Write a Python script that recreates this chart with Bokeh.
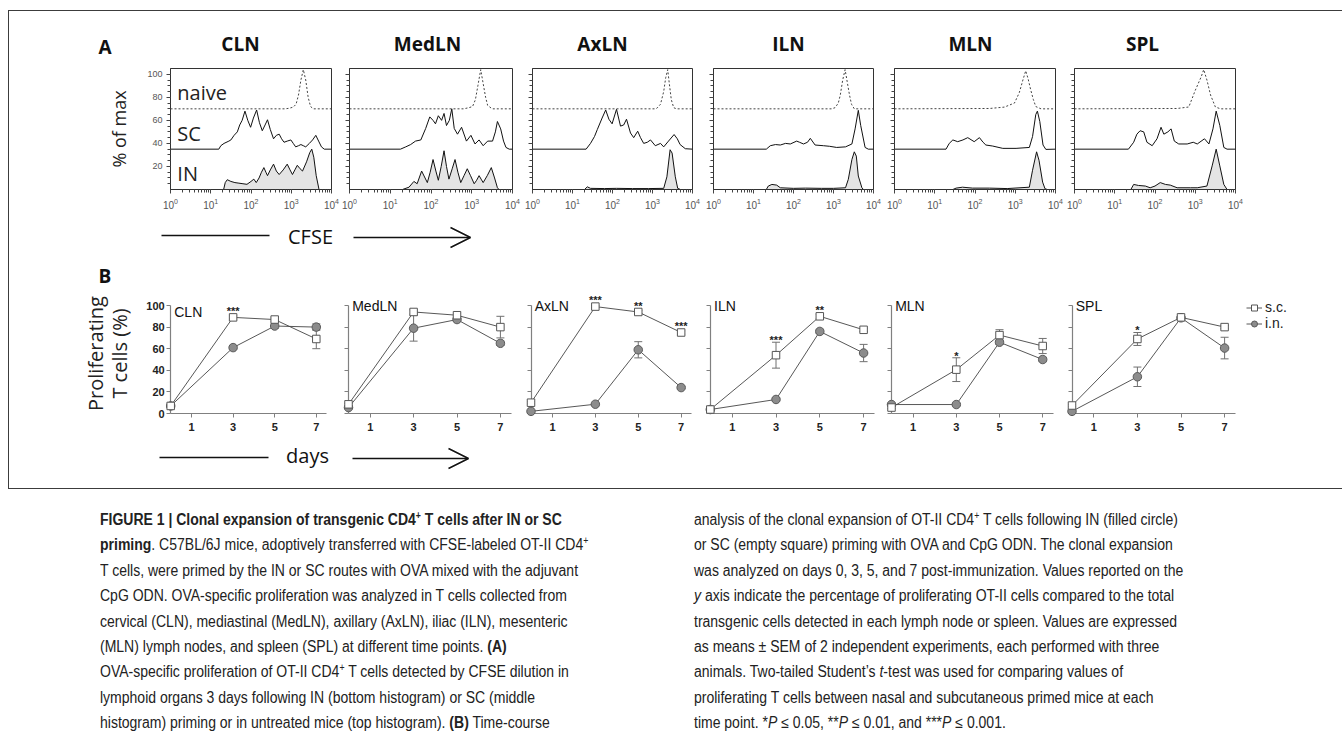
import math
from bokeh.plotting import figure
from bokeh.layouts import row, column
from bokeh.models import (Range1d, FixedTicker, Legend, LegendItem, Whisker, TeeHead,
                          ColumnDataSource, Arrow, OpenHead, Label, Div, Spacer,
                          CustomJSTickFormatter)
from bokeh.core.properties import value
from bokeh.embed import file_html
from bokeh.resources import INLINE

# ------------------------------------------------------------------ data
ORGANS = ["CLN", "MedLN", "AxLN", "ILN", "MLN", "SPL"]
HIST_LABELS = ["naive", "SC", "IN"]
MAX_TICKS = [20, 40, 60, 80, 100]
DAYS = [0, 3, 5, 7]
DAY_TICKS = [1, 3, 5, 7]
PCT_TICKS = [0, 20, 40, 60, 80, 100]
LEGEND_LABELS = ["s.c.", "i.n."]
B_YLABEL = ["Proliferating", "T cells (%)"]

# CFSE histograms: (log10 CFSE intensity, % of max as drawn, stacked)
CLN_NAIVE = [(0, 70), (2.85, 70), (2.95, 70.5), (3.05, 71.5), (3.12, 74), (3.18, 82), (3.24, 95),
             (3.30, 104), (3.36, 95), (3.42, 80), (3.48, 72), (3.55, 70), (4, 70)]
CLN_SC = [(0, 35), (1.2, 35), (1.25, 38), (1.33, 40), (1.45, 42), (1.5, 43), (1.58, 47), (1.66, 50),
          (1.72, 56), (1.78, 60), (1.85, 68), (1.92, 60), (1.99, 54), (2.06, 62), (2.14, 69), (2.21, 58),
          (2.28, 51), (2.35, 56), (2.41, 60.5), (2.48, 52), (2.56, 44), (2.63, 47), (2.70, 48), (2.76, 44),
          (2.82, 41), (2.9, 42), (2.99, 43), (3.05, 40), (3.11, 37), (3.18, 38), (3.24, 39), (3.30, 38),
          (3.36, 37), (3.45, 40), (3.53, 43), (3.61, 47), (3.68, 42), (3.75, 37), (3.82, 35), (4, 35)]
CLN_IN = [(0, 0), (1.32, 0), (1.36, 6), (1.41, 8.5), (1.5, 7), (1.6, 6), (1.7, 5.5), (1.8, 5), (1.9, 4.5),
          (2.0, 7), (2.07, 9), (2.13, 6), (2.2, 10), (2.26, 15), (2.32, 19), (2.37, 15), (2.41, 12),
          (2.48, 17), (2.56, 22), (2.63, 16), (2.70, 13), (2.8, 17), (2.90, 22), (2.97, 17), (3.03, 13),
          (3.09, 17), (3.15, 21), (3.22, 18), (3.28, 16), (3.38, 24), (3.46, 32), (3.51, 35), (3.56, 28),
          (3.62, 12), (3.69, 0), (4, 0)]

MEDLN_NAIVE = [(0, 70), (2.8, 70), (2.93, 71), (3.02, 72), (3.09, 78), (3.15, 90), (3.22, 104),
               (3.28, 92), (3.34, 80), (3.39, 73), (3.5, 70), (4, 70)]
MEDLN_SC = [(0, 35), (1.25, 35), (1.38, 37), (1.5, 39), (1.62, 42), (1.75, 43), (1.87, 53), (1.97, 63),
            (2.05, 60), (2.11, 57), (2.18, 64), (2.26, 60), (2.32, 66), (2.38, 55.5), (2.45, 60),
            (2.51, 70), (2.57, 53), (2.65, 48), (2.75, 54), (2.87, 42), (2.98, 47), (3.08, 39.5),
            (3.18, 43), (3.28, 38), (3.39, 42), (3.51, 42), (3.58, 50), (3.63, 59), (3.71, 52.6),
            (3.78, 42), (3.84, 36.5), (3.92, 35), (4, 35)]
MEDLN_IN = [(0, 0), (1.30, 0), (1.46, 2), (1.58, 7), (1.66, 5), (1.77, 16), (1.91, 6), (1.98, 15),
            (2.05, 26), (2.12, 16), (2.18, 8), (2.25, 20), (2.32, 33.6), (2.38, 20), (2.44, 9), (2.52, 18),
            (2.59, 26), (2.66, 15), (2.73, 6), (2.81, 12), (2.89, 18), (2.97, 12), (3.06, 5), (3.12, 8),
            (3.18, 12), (3.23, 9), (3.28, 6), (3.38, 12), (3.48, 19), (3.56, 10), (3.63, 1.5), (3.67, 0),
            (4, 0)]

AXLN_NAIVE = [(0, 70), (3.05, 70), (3.11, 70.5), (3.2, 74), (3.28, 85), (3.33, 97), (3.38, 104),
              (3.42, 92), (3.47, 78), (3.53, 71), (3.6, 70), (4, 70)]
AXLN_SC = [(0, 35), (1.34, 35), (1.45, 40), (1.55, 46), (1.62, 52), (1.74, 62), (1.83, 69), (1.91, 61),
           (1.99, 57), (2.10, 69.6), (2.20, 55), (2.28, 56), (2.35, 61), (2.45, 49), (2.53, 45),
           (2.63, 50.6), (2.7, 45), (2.78, 40), (2.87, 41), (2.95, 43), (3.07, 38), (3.20, 40), (3.28, 37),
           (3.40, 42), (3.54, 47.7), (3.62, 44), (3.69, 39), (3.82, 35.4), (4, 35)]
AXLN_IN = [(0, 0), (1.30, 0), (1.37, 2.3), (1.45, 1), (1.8, 0.8), (2.1, 1), (2.5, 0.8), (2.9, 0.8),
           (3.28, 1), (3.36, 11), (3.44, 34.5), (3.49, 31.6), (3.57, 11), (3.63, 1), (3.7, 0), (4, 0)]

ILN_NAIVE = [(0, 70), (2.95, 70), (3.04, 71), (3.12, 75), (3.17, 82), (3.23, 95), (3.29, 104),
             (3.34, 94), (3.40, 82), (3.45, 74), (3.52, 70), (4, 70)]
ILN_SC = [(0, 35), (1.32, 35), (1.42, 38), (1.55, 39), (1.67, 38.6), (1.8, 40), (1.92, 39.5), (2.08, 42),
          (2.15, 41), (2.25, 39.5), (2.35, 41), (2.42, 44.4), (2.54, 38.6), (2.75, 38), (2.9, 37.5),
          (3.08, 36.5), (3.3, 37), (3.46, 39.5), (3.54, 52.6), (3.62, 68.7), (3.68, 55.6), (3.79, 36.5),
          (3.87, 35), (4, 35)]
ILN_IN = [(0, 0), (1.32, 0), (1.37, 3), (1.46, 4.4), (1.58, 3.8), (1.67, 1.5), (2.0, 1), (2.3, 1.2),
          (2.7, 1), (3.0, 1), (3.3, 1.5), (3.37, 8.8), (3.46, 26), (3.52, 32.7), (3.57, 29), (3.62, 11.7),
          (3.71, 1.5), (3.75, 0), (4, 0)]

MLN_NAIVE = [(0, 70), (2.36, 70.3), (2.73, 71.5), (2.98, 75), (3.10, 84), (3.19, 95), (3.26, 103),
             (3.32, 96), (3.38, 87), (3.45, 78), (3.51, 72), (3.64, 70), (4, 70)]
MLN_SC = [(0, 35), (1.28, 35), (1.36, 40), (1.45, 43), (1.57, 41.5), (1.7, 43), (1.82, 45), (1.98, 41.5),
          (2.11, 45), (2.2, 41), (2.27, 38.6), (2.44, 37.7), (2.69, 35.7), (3.02, 35.7), (3.35, 36.5),
          (3.43, 46), (3.51, 65), (3.55, 68), (3.61, 59), (3.69, 38.6), (3.76, 34.8), (4, 35)]
MLN_IN = [(0, 0), (1.45, 0), (1.53, 1.2), (1.69, 2), (1.94, 1.2), (2.36, 1.2), (2.8, 0.8), (3.35, 2),
          (3.43, 16.7), (3.53, 32.7), (3.59, 25.4), (3.68, 6.4), (3.74, 0.6), (3.8, 0), (4, 0)]

SPL_NAIVE = [(0, 70), (2.55, 70.3), (2.84, 71.6), (3.0, 86), (3.15, 98), (3.21, 104), (3.29, 95),
             (3.38, 82), (3.50, 71.6), (3.63, 70), (4, 70)]
SPL_SC = [(0, 35), (1.34, 35), (1.47, 41), (1.55, 48), (1.63, 51), (1.72, 50), (1.80, 41), (1.93, 38),
          (2.05, 44), (2.15, 54), (2.22, 48), (2.32, 50), (2.40, 52.6), (2.48, 42), (2.59, 39.5),
          (2.8, 39.5), (2.95, 41), (3.05, 39.5), (3.23, 44), (3.34, 39.5), (3.44, 52.6), (3.52, 68),
          (3.61, 55.6), (3.71, 36.5), (3.79, 35), (4, 35)]
SPL_IN = [(0, 0), (1.40, 0), (1.47, 4.4), (1.59, 3.5), (1.76, 3), (1.88, 1.5), (2.0, 3), (2.13, 6),
          (2.26, 4.4), (2.38, 3.8), (2.55, 1.5), (2.88, 1.5), (3.05, 1.5), (3.29, 3), (3.42, 20.5),
          (3.52, 35), (3.61, 20.5), (3.71, 4.4), (3.79, 0), (4, 0)]

# Time course: proliferating T cells (%), mean and SEM at days 0, 3, 5, 7
CLN_SC_MEAN = [7, 89, 87, 69]
CLN_SC_SEM = [1, 1.5, 1.5, 9]
CLN_IN_MEAN = [7, 61, 81, 80]
CLN_IN_SEM = [1, 1.5, 2, 3]
CLN_STARS = ["", "***", "", ""]

MEDLN_SC_MEAN = [8.5, 94, 91, 80]
MEDLN_SC_SEM = [1, 2, 2, 10]
MEDLN_IN_MEAN = [5.5, 79, 87, 65]
MEDLN_IN_SEM = [1, 12, 2, 2]
MEDLN_STARS = ["", "", "", ""]

AXLN_SC_MEAN = [10, 99, 94, 75]
AXLN_SC_SEM = [1, 1, 1.5, 1.5]
AXLN_IN_MEAN = [2, 8.6, 59, 24]
AXLN_IN_SEM = [0.5, 1, 7.5, 1]
AXLN_STARS = ["", "***", "**", "***"]

ILN_SC_MEAN = [3.7, 54, 90, 77.5]
ILN_SC_SEM = [1, 12, 2, 1.5]
ILN_IN_MEAN = [3.7, 13, 76, 56]
ILN_IN_SEM = [1, 1.5, 2, 8]
ILN_STARS = ["", "***", "**", ""]

MLN_SC_MEAN = [5.5, 40.6, 72.6, 62.5]
MLN_SC_SEM = [1, 11, 5, 7]
MLN_IN_MEAN = [8.3, 8.3, 66, 50]
MLN_IN_SEM = [1, 1, 2, 2]
MLN_STARS = ["", "*", "", ""]

SPL_SC_MEAN = [7.4, 69, 89, 80]
SPL_SC_SEM = [1, 6, 1.5, 1.5]
SPL_IN_MEAN = [2, 34, 88.6, 60.6]
SPL_IN_SEM = [0.5, 9, 1.5, 10]
SPL_STARS = ["", "*", "", ""]

HISTS = [(CLN_NAIVE, CLN_SC, CLN_IN), (MEDLN_NAIVE, MEDLN_SC, MEDLN_IN), (AXLN_NAIVE, AXLN_SC, AXLN_IN),
         (ILN_NAIVE, ILN_SC, ILN_IN), (MLN_NAIVE, MLN_SC, MLN_IN), (SPL_NAIVE, SPL_SC, SPL_IN)]
COURSES = [
    (CLN_SC_MEAN, CLN_SC_SEM, CLN_IN_MEAN, CLN_IN_SEM, CLN_STARS),
    (MEDLN_SC_MEAN, MEDLN_SC_SEM, MEDLN_IN_MEAN, MEDLN_IN_SEM, MEDLN_STARS),
    (AXLN_SC_MEAN, AXLN_SC_SEM, AXLN_IN_MEAN, AXLN_IN_SEM, AXLN_STARS),
    (ILN_SC_MEAN, ILN_SC_SEM, ILN_IN_MEAN, ILN_IN_SEM, ILN_STARS),
    (MLN_SC_MEAN, MLN_SC_SEM, MLN_IN_MEAN, MLN_IN_SEM, MLN_STARS),
    (SPL_SC_MEAN, SPL_SC_SEM, SPL_IN_MEAN, SPL_IN_SEM, SPL_STARS),
]

# ------------------------------------------------------------------ layout constants (image px)
X0, X1 = 9, 1334
A_LEFT = [170, 349, 532, 713, 894, 1074]
A_WIDTH = [161, 163, 160, 160, 161, 161]
A_TITLE_X = [240, 427, 602, 788, 970, 1142]
B_DAY0 = [170.2, 348, 530.5, 709.8, 891, 1071.5]
B_PPD = [20.8, 21.7, 21.45, 21.9, 21.6, 21.8]
B_ZERO_Y, B_PPU = 413, 1.08
B_TOP, B_BOT = 290, 435
BASELINES = [70, 35, 0]

SANS = "Liberation Sans"
OPEN = "Open Sans"


def blank(y0, y1):
    p = figure(width=X1 - X0, height=y1 - y0, x_range=Range1d(X0, X1), y_range=Range1d(y1, y0),
               x_axis_type=None, y_axis_type=None, min_border=0, output_backend="svg",
               toolbar_location=None)
    p.outline_line_color = None
    p.grid.visible = False
    return p


# ---------------- header (titles)
hdr = blank(11, 64)
hdr.text(x=A_TITLE_X, y=[43.5] * 6, text=ORGANS, text_font=value(OPEN), text_font_style="bold",
         text_font_size="19px", text_align="center", text_baseline="middle", text_color="#111")
hdr.text(x=[104.5], y=[46], text=["A"], text_font=value(OPEN), text_font_style="bold",
         text_font_size="19px", text_align="center", text_baseline="middle", text_color="#111")

# ---------------- row A: CFSE histograms
figsA = []
prev = X0
for i, org in enumerate(ORGANS):
    left_b = A_LEFT[i] - prev
    right_edge = A_LEFT[i] + A_WIDTH[i]
    right_b = 9 if i < 5 else X1 - right_edge
    p = figure(frame_width=A_WIDTH[i], frame_height=121, x_axis_type="log",
               x_range=Range1d(1, 10000), y_range=Range1d(0, 105),
               min_border_left=left_b, min_border_right=right_b, min_border_top=4,
               min_border_bottom=25, output_backend="svg", toolbar_location=None)
    prev = right_edge + right_b
    p.grid.visible = False
    p.outline_line_color = "#333"
    for ax in (p.xaxis[0], p.yaxis[0]):
        ax.axis_line_color = "#333"
        ax.major_tick_line_color = "#444"
        ax.minor_tick_line_color = "#444"
        ax.major_tick_in = 0
        ax.major_tick_out = 4
        ax.minor_tick_in = 0
        ax.minor_tick_out = 3
        ax.major_label_text_font = SANS
        ax.major_label_text_color = "#555"
        ax.major_label_standoff = 4
    p.xaxis.major_label_text_font_size = "10px"
    p.yaxis.major_label_text_font_size = "9px"
    p.yaxis.ticker = FixedTicker(ticks=MAX_TICKS, minor_ticks=list(range(5, 105, 5)))
    if i == 0:
        p.yaxis.axis_label = "% of max"
        p.yaxis.axis_label_text_font = OPEN
        p.yaxis.axis_label_text_font_size = "18px"
        p.yaxis.axis_label_text_font_style = "normal"
        p.yaxis.axis_label_text_color = "#222"
        p.yaxis.axis_label_standoff = 13
    else:
        p.yaxis.formatter = CustomJSTickFormatter(code="return ''")
    naive, sc, inn = HISTS[i]
    xs = lambda pts: [10 ** a for a, b in pts]
    ys = lambda pts: [b for a, b in pts]
    p.varea(x=xs(inn), y1=[0] * len(inn), y2=ys(inn), fill_color="#e4e4e4")
    p.line(xs(inn), ys(inn), line_color="#111", line_width=1)
    p.line(xs(sc), ys(sc), line_color="#111", line_width=1)
    p.line(xs(naive), ys(naive), line_color="#444", line_width=1, line_dash="2 2")
    if i == 0:
        p.text(x=[1.48] * 3, y=[b + 14 for b in BASELINES], text=HIST_LABELS, text_font=value(OPEN),
               text_font_size="20px", text_baseline="middle", text_color="#222")
    figsA.append(p)

# ---------------- CFSE arrow row + "B"
cf = blank(214, 289)
cf.segment(x0=[161], y0=[235], x1=[269], y1=[235], line_width=1.6, line_color="#111")
cf.text(x=[310], y=[235.5], text=["CFSE"], text_font=value(OPEN), text_font_size="20px",
        text_align="center", text_baseline="middle", text_color="#111")
cf.add_layout(Arrow(end=OpenHead(size=20, line_width=1.6, line_color="#111"), x_start=353, y_start=237,
                    x_end=470, y_end=237, line_width=1.6, line_color="#111"))
cf.text(x=[104.5], y=[275.5], text=["B"], text_font=value(OPEN), text_font_style="bold",
        text_font_size="19px", text_align="center", text_baseline="middle", text_color="#111")

# ---------------- row B: time courses
figsB = []
prev = X0
y_lo = (B_ZERO_Y - B_BOT) / B_PPU
y_hi = (B_ZERO_Y - B_TOP) / B_PPU
for i, org in enumerate(ORGANS):
    d0, ppd = B_DAY0[i], B_PPD[i]
    fl = 80 if i == 0 else int(round(d0 - 0.45 * ppd))
    fr = int(round(d0 + 7.6 * ppd))
    fw = fr - fl
    xs0 = (fl - d0) / ppd
    xe0 = (fr - d0) / ppd
    left_b = fl - prev
    right_b = 0 if i < 5 else X1 - fr
    p = figure(frame_width=fw, frame_height=B_BOT - B_TOP, x_range=Range1d(xs0, xe0),
               y_range=Range1d(y_lo, y_hi), min_border_left=left_b, min_border_right=right_b,
               min_border_top=B_TOP - 289, min_border_bottom=440 - B_BOT,
               output_backend="svg", toolbar_location=None)
    prev = fr + right_b
    p.grid.visible = False
    p.outline_line_color = None
    p.xaxis.fixed_location = 0
    p.yaxis.fixed_location = 0
    p.xaxis.bounds = (0, 7.5)
    p.yaxis.bounds = (0, 100)
    p.xaxis.ticker = FixedTicker(ticks=DAY_TICKS)
    p.yaxis.ticker = FixedTicker(ticks=PCT_TICKS)
    for ax in (p.xaxis[0], p.yaxis[0]):
        ax.axis_line_color = "#808080"
        ax.axis_line_width = 1.2
        ax.major_tick_line_color = "#808080"
        ax.major_tick_in = 0
        ax.major_tick_out = 4
        ax.minor_tick_line_color = None
        ax.major_label_text_font = SANS
        ax.major_label_text_font_style = "bold"
        ax.major_label_text_font_size = "11px"
        ax.major_label_text_color = "#222"
        ax.level = "underlay"
    p.xaxis.major_label_standoff = 5
    p.yaxis.major_label_standoff = 2
    if i == 0:
        lx = [(95 - d0) / ppd, (119 - d0) / ppd]
        ly = [(B_ZERO_Y - 353) / B_PPU] * 2
        p.text(x=lx, y=ly, text=B_YLABEL, angle=math.pi / 2, text_font=value(OPEN),
               text_font_size="20px", text_align="center", text_baseline="middle", text_color="#222")
    else:
        p.yaxis.formatter = CustomJSTickFormatter(code="return ''")

    sc_m, sc_e, in_m, in_e, stars = COURSES[i]
    for m, e in ((in_m, in_e), (sc_m, sc_e)):
        src = ColumnDataSource(dict(x=DAYS, upper=[a + b for a, b in zip(m, e)],
                                    lower=[a - b for a, b in zip(m, e)]))
        p.add_layout(Whisker(source=src, base="x", upper="upper", lower="lower", line_color="#707070",
                             line_width=1, level="underlay",
                             upper_head=TeeHead(size=8, line_color="#707070", line_width=1),
                             lower_head=TeeHead(size=8, line_color="#707070", line_width=1)))
    in_line = p.line(DAYS, in_m, line_color="#444", line_width=0.9)
    sc_line = p.line(DAYS, sc_m, line_color="#444", line_width=0.9)
    in_pts = p.scatter(DAYS, in_m, marker="circle", size=8.5, fill_color="#8c8c8c", line_color="#5a5a5a",
                       line_width=1)
    sc_pts = p.scatter(DAYS, sc_m, marker="square", size=7.5, fill_color="white", line_color="#555",
                       line_width=1)
    star_y = [m + max(e, 4) + 2 for m, e in zip(sc_m, sc_e)]
    p.text(x=DAYS, y=star_y, text=stars, text_font=value(SANS), text_font_style="bold",
           text_font_size="11px", text_align="center", text_baseline="middle", text_color="#222")
    p.add_layout(Label(x=0.17, y=94 if i == 0 else 100, text=org, text_font=SANS, text_font_size="14px",
                       text_baseline="middle", text_color="#111"))
    if i == 5:
        leg = Legend(items=[LegendItem(label=LEGEND_LABELS[0], renderers=[sc_line, sc_pts]),
                            LegendItem(label=LEGEND_LABELS[1], renderers=[in_line, in_pts])],
                     location="top_left", margin=9, padding=10, spacing=0, glyph_width=16,
                     glyph_height=15, label_height=15, label_standoff=3, label_text_font=SANS,
                     label_text_font_size="14px", label_text_color="#222", border_line_color=None,
                     background_fill_alpha=0)
        p.add_layout(leg, "right")
    figsB.append(p)

# ---------------- days arrow row
dy = blank(440, 488)
dy.segment(x0=[159], y0=[457], x1=[268], y1=[457], line_width=1.6, line_color="#111")
dy.text(x=[307], y=[455], text=["days"], text_font=value(OPEN), text_font_size="20px",
        text_align="center", text_baseline="middle", text_color="#111")
dy.add_layout(Arrow(end=OpenHead(size=20, line_width=1.6, line_color="#111"), x_start=352, y_start=458,
                    x_end=468, y_end=458, line_width=1.6, line_color="#111"))

# ---------------- caption
SUP = '<sup style="font-size:10px;line-height:0;vertical-align:6px">+</sup>'
LEFT_LINES = [
    "<b>FIGURE 1 | Clonal expansion of transgenic CD4" + SUP + " T cells after IN or SC</b>",
    "<b>priming</b>. C57BL/6J mice, adoptively transferred with CFSE-labeled OT-II CD4" + SUP,
    "T cells, were primed by the IN or SC routes with OVA mixed with the adjuvant",
    "CpG ODN. OVA-specific proliferation was analyzed in T cells collected from",
    "cervical (CLN), mediastinal (MedLN), axillary (AxLN), iliac (ILN), mesenteric",
    "(MLN) lymph nodes, and spleen (SPL) at different time points. <b>(A)</b>",
    "OVA-specific proliferation of OT-II CD4" + SUP + " T cells detected by CFSE dilution in",
    "lymphoid organs 3 days following IN (bottom histogram) or SC (middle",
    "histogram) priming or in untreated mice (top histogram). <b>(B)</b> Time-course",
]
RIGHT_LINES = [
    "analysis of the clonal expansion of OT-II CD4" + SUP + " T cells following IN (filled circle)",
    "or SC (empty square) priming with OVA and CpG ODN. The clonal expansion",
    "was analyzed on days 0, 3, 5, and 7 post-immunization. Values reported on the",
    "<i>y</i> axis indicate the percentage of proliferating OT-II cells compared to the total",
    "transgenic cells detected in each lymph node or spleen. Values are expressed",
    "as means \u00b1 SEM of 2 independent experiments, each performed with three",
    "animals. Two-tailed Student\u2019s <i>t</i>-test was used for comparing values of",
    "proliferating T cells between nasal and subcutaneous primed mice at each",
    "time point. *<i>P</i> \u2264 0.05, **<i>P</i> \u2264 0.01, and ***<i>P</i> \u2264 0.001.",
]
col_style = ("font-family:'Liberation Sans',Arial,sans-serif;font-size:16px;line-height:25.4px;"
             "white-space:nowrap;color:#222;transform:scaleX(0.875);transform-origin:0 0;")
html = ('<div style="display:flex;padding-left:100px;padding-top:18px;margin:0">'
        '<div style="width:594px;flex:none;%s">%s</div><div style="flex:none;%s">%s</div></div>'
        % (col_style, "<br>".join(LEFT_LINES), col_style, "<br>".join(RIGHT_LINES)))
cap = Div(text=html, width=1342, height=250, styles={"margin": "0", "padding": "0"})

boxed = column(hdr, row(*figsA), cf, row(*figsB), dy, styles={"border": "1px solid #3c3c3c"})
layout = column(Spacer(width=1342, height=10), row(Spacer(width=8, height=479), boxed), cap)

open("out.html", "w").write(file_html(layout, INLINE))
